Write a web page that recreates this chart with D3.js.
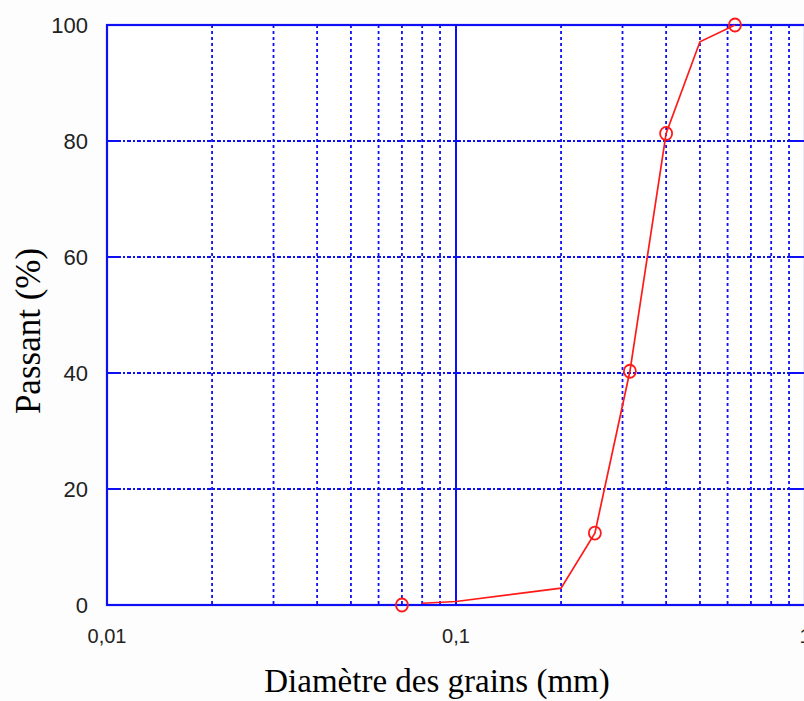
<!DOCTYPE html>
<html>
<head>
<meta charset="utf-8">
<script src="https://cdn.jsdelivr.net/npm/d3@7"></script>
<style>
  html, body { margin: 0; padding: 0; background: #fdfdfd; overflow: hidden; }
  #chart { width: 804px; height: 701px; }
</style>
</head>
<body>
<div id="chart"></div>
<script>
// Courbe granulométrique (diamètre en mm, passant en %)
const yTicks = [0, 20, 40, 60, 80, 100];
const xMajorTicks = [0.01, 0.1, 1];
const xMajorLabels = ["0,01", "0,1", "1"];
const xMinorTicks = [0.02, 0.03, 0.04, 0.05, 0.06, 0.07, 0.08, 0.09,
  0.2, 0.3, 0.4, 0.5, 0.6, 0.7, 0.8, 0.9];

const curveDiameters = [0.08, 0.1, 0.2, 0.25, 0.315, 0.4, 0.5, 0.63];
const curvePassing = [0.3, 0.6, 2.9, 12.4, 40.3, 81.3, 97.1, 100];

const sampleDiameters = [0.07, 0.25, 0.315, 0.4, 0.63];
const samplePassing = [0, 12.4, 40.3, 81.3, 100];

const xLabel = "Diamètre des grains (mm)";
const yLabel = "Passant (%)";

(function () {
  "use strict";

  const width = 804;
  const height = 701;
  const blue = "#0f0ff5";
  const red = "#ff1a1a";

  const x = d3.scaleLog().domain([0.01, 1]).range([107, 805]);
  const y = d3.scaleLinear().domain([0, 100]).range([605, 25]);

  const svg = d3.select("#chart")
    .append("svg")
    .attr("width", width)
    .attr("height", height)
    .attr("viewBox", `0 0 ${width} ${height}`);

  svg.append("rect")
    .attr("x", x(0.01)).attr("y", y(100))
    .attr("width", x(1) - x(0.01)).attr("height", y(0) - y(100))
    .attr("fill", "#fff");

  const grid = svg.append("g").attr("class", "grid");

  // vertical minor grid (dotted)
  grid.selectAll("line.vminor")
    .data(xMinorTicks)
    .join("line")
    .attr("class", "vminor")
    .attr("x1", (d) => x(d)).attr("x2", (d) => x(d))
    .attr("y1", y(100)).attr("y2", y(0))
    .attr("stroke", blue)
    .attr("stroke-width", 1.8)
    .attr("stroke-dasharray", "3,3");

  // horizontal grid (dash-dot)
  grid.selectAll("line.hgrid")
    .data(yTicks.filter((d) => d > 0 && d < 100))
    .join("line")
    .attr("class", "hgrid")
    .attr("x1", x(0.01)).attr("x2", x(1))
    .attr("y1", (d) => y(d)).attr("y2", (d) => y(d))
    .attr("stroke", blue)
    .attr("stroke-width", 1.8)
    .attr("stroke-dasharray", "4,2,2,2");

  // decade line inside the plot (solid)
  grid.selectAll("line.vmajor")
    .data(xMajorTicks.slice(1, -1))
    .join("line")
    .attr("class", "vmajor")
    .attr("x1", (d) => x(d)).attr("x2", (d) => x(d))
    .attr("y1", y(100)).attr("y2", y(0))
    .attr("stroke", blue)
    .attr("stroke-width", 2);

  // frame
  svg.append("rect")
    .attr("x", x(0.01)).attr("y", y(100))
    .attr("width", x(1) - x(0.01)).attr("height", y(0) - y(100))
    .attr("fill", "none")
    .attr("stroke", blue)
    .attr("stroke-width", 2.2);

  // inward ticks on the left and right axes
  const inner = yTicks.filter((d) => d > 0 && d < 100);
  svg.append("g").selectAll("line")
    .data(inner)
    .join("line")
    .attr("x1", x(0.01)).attr("x2", x(0.01) + 13)
    .attr("y1", (d) => y(d)).attr("y2", (d) => y(d))
    .attr("stroke", blue).attr("stroke-width", 2);
  svg.append("g").selectAll("line")
    .data(inner)
    .join("line")
    .attr("x1", x(0.9)).attr("x2", x(1))
    .attr("y1", (d) => y(d)).attr("y2", (d) => y(d))
    .attr("stroke", blue).attr("stroke-width", 2);

  // tick labels
  svg.append("g")
    .attr("font-family", "'Liberation Sans', Arial, sans-serif")
    .attr("font-size", 22)
    .attr("fill", "#222")
    .selectAll("text")
    .data(yTicks)
    .join("text")
    .attr("x", 88)
    .attr("y", (d) => y(d))
    .attr("dy", "0.36em")
    .attr("text-anchor", "end")
    .text((d) => d);

  svg.append("g")
    .attr("font-family", "'Liberation Sans', Arial, sans-serif")
    .attr("font-size", 20)
    .attr("fill", "#222")
    .selectAll("text")
    .data(xMajorTicks)
    .join("text")
    .attr("x", (d) => x(d))
    .attr("y", 643)
    .attr("text-anchor", "middle")
    .text((d, i) => xMajorLabels[i]);

  // axis titles
  svg.append("text")
    .attr("x", 437)
    .attr("y", 692)
    .attr("text-anchor", "middle")
    .attr("font-family", "'Liberation Serif', 'Times New Roman', serif")
    .attr("font-size", 33)
    .attr("fill", "#000")
    .text(xLabel);

  svg.append("text")
    .attr("transform", "translate(40,331) rotate(-90)")
    .attr("text-anchor", "middle")
    .attr("font-family", "'Liberation Serif', 'Times New Roman', serif")
    .attr("font-size", 35)
    .attr("fill", "#000")
    .text(yLabel);

  // curve
  const points = curveDiameters.map((d, i) => [d, curvePassing[i]]);
  const line = d3.line()
    .x((d) => x(d[0]))
    .y((d) => y(d[1]));

  svg.append("path")
    .datum(points)
    .attr("d", line)
    .attr("fill", "none")
    .attr("stroke", red)
    .attr("stroke-width", 1.7);

  svg.append("g").selectAll("ellipse")
    .data(sampleDiameters.map((d, i) => [d, samplePassing[i]]))
    .join("ellipse")
    .attr("cx", (d) => x(d[0]))
    .attr("cy", (d) => y(d[1]))
    .attr("rx", 6)
    .attr("ry", 6.5)
    .attr("fill", "none")
    .attr("stroke", red)
    .attr("stroke-width", 1.8);
})();
</script>
</body>
</html>
